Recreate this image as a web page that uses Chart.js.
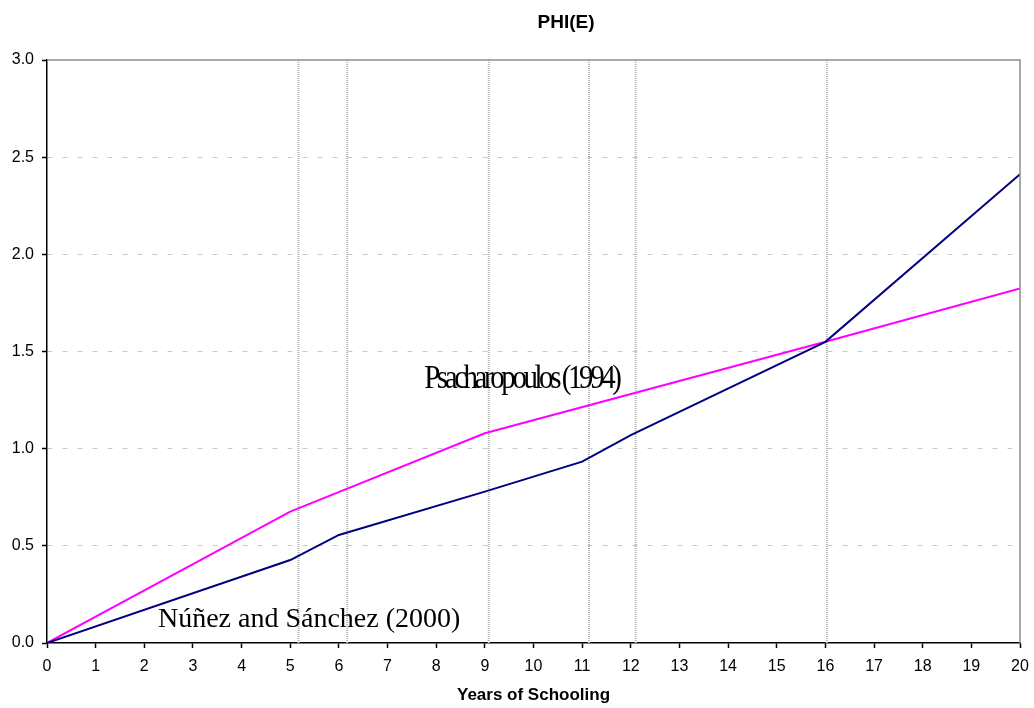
<!DOCTYPE html>
<html>
<head>
<meta charset="utf-8">
<script src="https://cdn.jsdelivr.net/npm/chart.js@4/dist/chart.umd.min.js"></script>
<style>
  html, body { margin: 0; padding: 0; background: #fff; }
  #wrap { width: 1034px; height: 708px; position: relative; }
</style>
</head>
<body>
<div id="wrap"><canvas id="myChart"></canvas></div>
<script>
// data
const chartTitle = 'PHI(E)';
const xTitle = 'Years of Schooling';
const nunezYears = [0, 5, 6, 9, 11, 12, 16, 20];
const nunezSanchez = [0, 0.427, 0.556, 0.779, 0.933, 1.07, 1.55, 2.412];
const psachYears = [0, 5, 9, 16, 20];
const psacharopoulos = [0, 0.676, 1.079, 1.55, 1.825];
const markerYears = [5.17, 6.17, 9.08, 11.14, 12.10, 16.03];
const xTicks = [0, 1, 2, 3, 4, 5, 6, 7, 8, 9, 10, 11, 12, 13, 14, 15, 16, 17, 18, 19, 20];
const yTicks = [0, 0.5, 1.0, 1.5, 2.0, 2.5, 3.0];

// text placed inside the plot, anchored in data units
const notes = [
    { text: 'Psacharopoulos (1994)', x: 9.75, y: 1.312, font: '34px "Liberation Serif", "Times New Roman", serif', align: 'center', squeeze: 0.85, spacing: '-4px' },
    { text: 'Núñez and Sánchez (2000)', x: 2.28, y: 0.082, font: '28px "Liberation Serif", "Times New Roman", serif', align: 'left', squeeze: 1, spacing: '0px' }
];

const sansFont = '"Liberation Sans", Arial, sans-serif';
const toPoints = (xs, ys) => xs.map((v, i) => ({ x: v, y: ys[i] }));

const markerSets = markerYears.map(m => ({
    data: [{ x: m, y: yTicks[0] }, { x: m, y: yTicks[yTicks.length - 1] }],
    borderColor: '#b2b2b2',
    borderWidth: 2,
    borderDash: [1, 1],
    pointRadius: 0,
    order: 5
}));

const extras = {
    id: 'extras',
    afterDraw(chart) {
        const { ctx, chartArea: a, scales: { x, y } } = chart;
        ctx.save();
        // grey frame on top and right
        ctx.strokeStyle = '#8c8c8c';
        ctx.lineWidth = 1.5;
        ctx.beginPath();
        ctx.moveTo(a.left, a.top);
        ctx.lineTo(a.right, a.top);
        ctx.lineTo(a.right, a.bottom);
        ctx.stroke();

        // title
        ctx.fillStyle = '#000';
        ctx.font = 'bold 19px ' + sansFont;
        ctx.textAlign = 'center';
        ctx.textBaseline = 'middle';
        ctx.fillText(chartTitle, 566, 23);

        // annotations
        notes.forEach(n => {
            ctx.save();
            ctx.font = n.font;
            ctx.letterSpacing = n.spacing;
            ctx.textAlign = n.align;
            ctx.textBaseline = 'alphabetic';
            ctx.translate(x.getPixelForValue(n.x), y.getPixelForValue(n.y));
            ctx.scale(n.squeeze, 1);
            ctx.fillText(n.text, 0, 0);
            ctx.restore();
        });
        ctx.restore();
    }
};

const config = {
    type: 'line',
    data: {
        datasets: [
            {
                label: 'Psacharopoulos (1994)',
                data: toPoints(psachYears, psacharopoulos),
                borderColor: '#ff00ff',
                borderWidth: 2,
                pointRadius: 0,
                tension: 0,
                order: 1
            },
            {
                label: 'Núñez and Sánchez (2000)',
                data: toPoints(nunezYears, nunezSanchez),
                borderColor: '#000080',
                borderWidth: 2,
                pointRadius: 0,
                tension: 0,
                order: 0
            },
            ...markerSets
        ]
    },
    options: {
        responsive: true,
        maintainAspectRatio: false,
        animation: false,
        layout: { padding: { top: 60, right: 14, left: 0, bottom: 0 } },
        scales: {
            x: {
                type: 'linear',
                min: 0,
                max: 20,
                afterBuildTicks: s => { s.ticks = xTicks.map(v => ({ value: v })); },
                afterFit: s => { s.height = 65; s.paddingLeft = 0; s.paddingRight = 0; },
                ticks: {
                    color: '#000',
                    padding: 9,
                    maxRotation: 0,
                    autoSkip: false,
                    font: { family: sansFont, size: 16 }
                },
                grid: {
                    drawOnChartArea: false,
                    drawTicks: true,
                    tickLength: 5,
                    tickColor: '#000',
                    tickWidth: 1.5
                },
                border: { color: '#000', width: 1.5 },
                title: {
                    display: true,
                    text: xTitle,
                    color: '#000',
                    padding: { top: 0, bottom: 2 },
                    font: { family: sansFont, size: 17, weight: 'bold' }
                }
            },
            y: {
                min: 0,
                max: 3,
                afterBuildTicks: s => { s.ticks = yTicks.map(v => ({ value: v })); },
                afterFit: s => { s.width = 47; s.paddingTop = 0; s.paddingBottom = 0; },
                ticks: {
                    color: '#000',
                    padding: 8,
                    font: { family: sansFont, size: 16 },
                    callback: v => Number(v).toFixed(1)
                },
                grid: {
                    color: c => (c.tick.value === 0 || c.tick.value === 3) ? 'rgba(0,0,0,0)' : '#c8c8c8',
                    lineWidth: 1,
                    drawTicks: true,
                    tickLength: 5,
                    tickColor: '#000',
                    tickWidth: 1.5,
                    tickBorderDash: []
                },
                border: { color: '#000', width: 1.5, dash: [5, 10] }
            }
        },
        plugins: {
            legend: { display: false },
            tooltip: { enabled: false },
            title: { display: false }
        }
    },
    plugins: [extras]
};

const myChart = new Chart(document.getElementById('myChart'), config);
</script>
</body>
</html>
